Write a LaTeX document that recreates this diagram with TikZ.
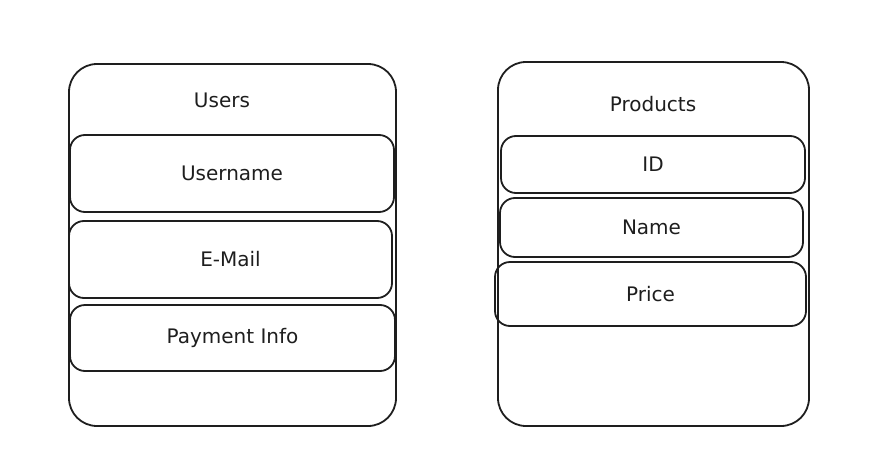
\documentclass[tikz,border=0pt]{standalone}
\usepackage{fontspec}
\setmainfont{DejaVu Sans}
\definecolor{ink}{HTML}{1E1E1E}
\begin{document}
\begin{tikzpicture}[x=1pt,y=-1pt,
  table/.style={draw=ink,line width=1.8pt,rounded corners=28pt,minimum width=#1,inner sep=0pt},
  field/.style={draw=ink,line width=1.8pt,rounded corners=15pt,inner sep=0pt,font=\fontsize{20}{22}\selectfont,text=ink},
  lbl/.style={font=\fontsize{20}{22}\selectfont,text=ink,inner sep=0pt}]
\useasboundingbox (0,0) rectangle (889,471);
% Users table
\node[table=327pt,minimum height=362pt] (users) at (232.5,245) {};
\node[lbl] (usersT) at (222,100) {Users};
\node[field,minimum width=324pt,minimum height=77pt] (username) at (232,173.5) {Username};
\node[field,minimum width=323pt,minimum height=77pt] (email) at (230.5,259.5) {E-Mail};
\node[field,minimum width=325pt,minimum height=66pt] (pay) at (232.5,338) {Payment Info};
% Products table
\node[table=311pt,minimum height=364pt] (products) at (653.5,244) {};
\node[lbl] (productsT) at (653,104) {Products};
\node[field,minimum width=304pt,minimum height=57pt] (id) at (653,164.5) {ID};
\node[field,minimum width=303pt,minimum height=59pt] (name) at (651.5,227.5) {Name};
\node[field,minimum width=311pt,minimum height=64pt] (price) at (650.5,294) {Price};
\end{tikzpicture}
\end{document}
